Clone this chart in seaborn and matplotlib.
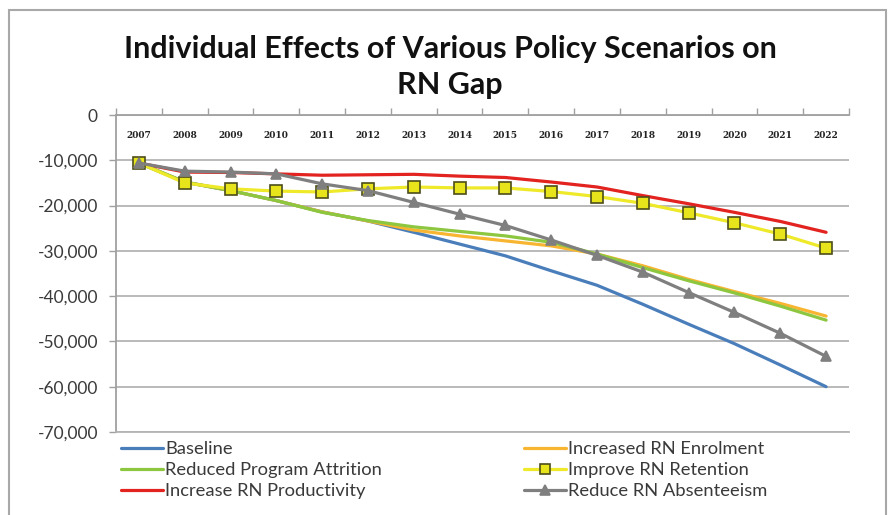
import matplotlib
matplotlib.use("Agg")
import matplotlib.pyplot as plt
from matplotlib.patches import Rectangle
from matplotlib.ticker import FuncFormatter, FixedLocator
import seaborn as sns
import pandas as pd

years = ["2007", "2008", "2009", "2010", "2011", "2012", "2013", "2014",
         "2015", "2016", "2017", "2018", "2019", "2020", "2021", "2022"]

baseline = [-10600, -14800, -16700, -18900, -21400, -23400, -25900, -28500,
            -31100, -34400, -37600, -41800, -46200, -50500, -55200, -60000]
enrolment = [-10600, -14800, -16700, -18900, -21400, -23400, -25400, -26700,
             -27800, -28900, -30700, -33300, -36300, -39000, -41600, -44400]
attrition = [-10600, -14800, -16700, -18900, -21500, -23300, -24700, -25700,
             -26700, -28100, -30700, -33700, -36600, -39300, -42200, -45300]
retention = [-10600, -15000, -16300, -16800, -17000, -16300, -15900, -16100,
             -16100, -16900, -18000, -19500, -21600, -23800, -26300, -29400]
productivity = [-10600, -12600, -12700, -13000, -13300, -13200, -13100, -13500,
                -13800, -14800, -15900, -17800, -19600, -21500, -23500, -25900]
absenteeism = [-10600, -12400, -12600, -13000, -15200, -16700, -19300, -21900,
               -24400, -27600, -31000, -34700, -39200, -43600, -48200, -53300]

series_names = ["Baseline", "Increased RN Enrolment", "Reduced Program Attrition",
                "Improve RN Retention", "Increase RN Productivity", "Reduce RN Absenteeism"]
series_values = [baseline, enrolment, attrition, retention, productivity, absenteeism]

title = "Individual Effects of Various Policy Scenarios on\nRN Gap"
y_ticks = [0, -10000, -20000, -30000, -40000, -50000, -60000, -70000]

styles = {
    "Baseline": dict(color="#4a7ebb", marker=None),
    "Increased RN Enrolment": dict(color="#f7b531", marker=None),
    "Reduced Program Attrition": dict(color="#8dc63f", marker=None),
    "Improve RN Retention": dict(color="#eeea2a", marker="s", mfc="#e8e41c", mec="#4d4d1a", ms=8.5),
    "Increase RN Productivity": dict(color="#e2231f", marker=None),
    "Reduce RN Absenteeism": dict(color="#7f7f7f", marker="^", mfc="#7f7f7f", mec="#7f7f7f", ms=7.5),
}
draw_order = ["Baseline", "Increased RN Enrolment", "Reduced Program Attrition",
              "Increase RN Productivity", "Improve RN Retention", "Reduce RN Absenteeism"]

rows = []
for name, vals in zip(series_names, series_values):
    for i, (yr, v) in enumerate(zip(years, vals)):
        rows.append({"series": name, "idx": i, "year": yr, "value": v})
df = pd.DataFrame(rows)

sns.set_style("white")
plt.rcParams["font.family"] = ["Lato", "DejaVu Sans"]

fig = plt.figure(figsize=(8.95, 5.15), dpi=100)
W, H = 895, 515
ax = fig.add_axes([116 / W, 1 - 432 / H, (849 - 116) / W, (432 - 115) / H])

handles = {}
for name in draw_order:
    st = styles[name]
    sub = df[df["series"] == name]
    kw = dict(color=st["color"], linewidth=2.3, ax=ax, legend=False)
    sns.lineplot(data=sub, x="idx", y="value", **kw)
    line = ax.lines[-1]
    if st["marker"]:
        line.set_marker(st["marker"])
        line.set_markerfacecolor(st["mfc"])
        line.set_markeredgecolor(st["mec"])
        line.set_markersize(st["ms"])
        line.set_markeredgewidth(1.2)
    handles[name] = line

ax.set_xlim(-0.5, len(years) - 0.5)
ax.set_ylim(-70000, 0)
ax.set_xlabel("")
ax.set_ylabel("")

# y axis
ax.yaxis.set_major_locator(FixedLocator(y_ticks))
ax.yaxis.set_major_formatter(FuncFormatter(lambda v, p: f"{int(v):,}"))
ax.grid(axis="y", color="#b4b4b4", linewidth=1.3)
ax.grid(axis="x", visible=False)
ax.set_axisbelow(True)
ax.tick_params(axis="y", which="major", direction="out", length=5, width=1,
               color="#a0a0a0", labelsize=12.5, labelcolor="#3a3a3a", pad=8, left=True)

# x axis along the zero line (top), labels inside plot
ax.xaxis.set_ticks_position("top")
ax.set_xticks(range(len(years)))
ax.set_xticklabels(years, fontfamily="DejaVu Serif", fontweight="bold", fontsize=6.5, color="#222222")
ax.set_xticks([i + 0.5 for i in range(-1, len(years))], minor=True)
ax.tick_params(axis="x", which="major", top=True, bottom=False, length=0,
               labeltop=True, labelbottom=False, pad=-18)
ax.tick_params(axis="x", which="minor", top=True, bottom=False, direction="out",
               length=5, width=1, color="#a0a0a0")

ax.spines["right"].set_visible(False)
ax.spines["top"].set_color("#a0a0a0")
ax.spines["top"].set_linewidth(1.3)
ax.spines["left"].set_color("#a0a0a0")
ax.spines["left"].set_linewidth(1.3)
ax.spines["bottom"].set_color("#b4b4b4")
ax.spines["bottom"].set_linewidth(1.3)

# title
fig.text(450 / W, 1 - 67 / H, title, ha="center", va="center", fontsize=22,
         fontweight="bold", color="#111111", linespacing=1.35)

# legends (two columns)
col1 = ["Baseline", "Reduced Program Attrition", "Increase RN Productivity"]
col2 = ["Increased RN Enrolment", "Improve RN Retention", "Reduce RN Absenteeism"]
lkw = dict(frameon=False, fontsize=13.2, handlelength=2.3, handletextpad=0.12,
           labelspacing=0.28, borderaxespad=0, borderpad=0, labelcolor="#3a3a3a")
leg1 = fig.legend([handles[n] for n in col1], col1, loc="upper left",
                  bbox_to_anchor=(121 / W, 1 - 441 / H), **lkw)
leg2 = fig.legend([handles[n] for n in col2], col2, loc="upper left",
                  bbox_to_anchor=(524 / W, 1 - 441 / H), **lkw)
for leg in (leg1, leg2):
    for lh in leg.legend_handles:
        if lh.get_marker() not in (None, "None", ""):
            lh.set_markersize(lh.get_markersize() * 0.9)

# chart border
fig.patches.append(Rectangle((9 / W, -0.05), (886 - 9) / W, (1 - 10 / H) + 0.05,
                             transform=fig.transFigure, fill=False,
                             edgecolor="#a8a8a8", linewidth=1.5))

fig.savefig("out.png", dpi=100, facecolor="white")
